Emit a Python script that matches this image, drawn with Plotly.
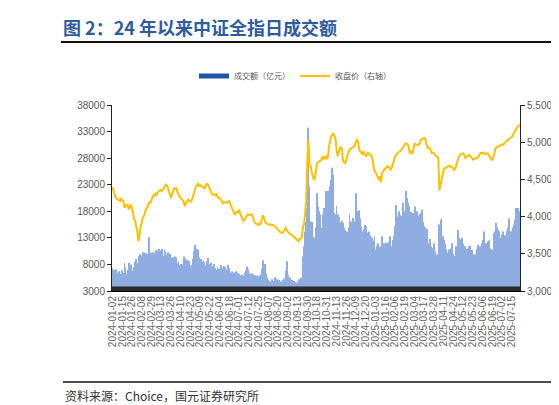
import pandas as pd
import plotly.graph_objects as go

# ---- trading calendar (China A-share), 2024-01-02 .. 2025-07-24 ----
holidays = [
    "2024-01-01", "2024-02-09", "2024-02-12", "2024-02-13", "2024-02-14", "2024-02-15", "2024-02-16",
    "2024-04-04", "2024-04-05", "2024-05-01", "2024-05-02", "2024-05-03", "2024-06-10",
    "2024-09-16", "2024-09-17", "2024-10-01", "2024-10-02", "2024-10-03", "2024-10-04", "2024-10-07",
    "2025-01-01", "2025-01-28", "2025-01-29", "2025-01-30", "2025-01-31", "2025-02-03", "2025-02-04",
    "2025-04-04", "2025-05-01", "2025-05-02", "2025-05-05", "2025-06-02",
]
days = pd.bdate_range("2024-01-02", "2025-07-24")
dates = [d.strftime("%Y-%m-%d") for d in days if d.strftime("%Y-%m-%d") not in holidays]

# ---- turnover (亿元) ----
turnover = [
    7300, 7000, 6600, 7100, 6500, 6300, 6700, 6200, 6000, 6900,
    6400, 8200, 7400, 6300, 7000, 8300, 7400, 8000, 6800, 6200,
    7500, 8500, 9000, 8200, 9600, 9900, 9700, 9400, 10300, 9900,
    10200, 9200, 10000, 9700, 13100, 10300, 10200, 10300, 9400, 10100,
    10700, 9800, 10500, 10900, 10600, 10200, 10900, 9600, 10800, 10500,
    9800, 10300, 9600, 10000, 9400, 8900, 9300, 8800, 9500, 9300,
    8200, 8600, 7900, 8100, 7700, 8000, 9500, 9100, 8600, 8900,
    8200, 8700, 7800, 7900, 9000, 10500, 11700, 11000, 10200, 10800,
    9300, 8700, 9000, 8500, 8800, 8400, 7800, 8600, 9200, 8100,
    7900, 8300, 7600, 7500, 8100, 7300, 7000, 7600, 7200, 6800,
    7900, 7300, 7100, 7700, 7400, 7000, 6900, 7900, 7300, 6500,
    6700, 6300, 6500, 6100, 6700, 6500, 6200, 6300, 5800, 5900,
    6100, 5800, 6500, 6900, 7600, 7100, 6400, 6100, 6200, 6300,
    5900, 6000, 5900, 5800, 6000, 5700, 5900, 6100, 7200, 8800,
    7000, 8100, 6300, 5500, 5100, 4900, 4800, 5200, 4900, 4700,
    5600, 5300, 5100, 4800, 5100, 4900, 4700, 5000, 5400, 5200,
    6800, 8600, 6000, 5300, 5500, 5000, 5100, 4800, 4900, 4700,
    4600, 4800, 5200, 4800, 5500, 5400, 9500, 11400, 14200, 16000,
    18600, 33700, 22700, 16100, 16000, 13300, 12600, 13000, 14900, 21400,
    18900, 18000, 17400, 14900, 17400, 18600, 18300, 21800, 20500, 21800,
    16400, 22700, 24000, 26200, 24900, 17700, 17400, 19000, 17400, 16900,
    15800, 15500, 16200, 15800, 14900, 14500, 13600, 14200, 15000, 17400,
    16100, 15500, 16800, 16100, 15700, 21400, 18000, 17700, 18200, 16700,
    15200, 14200, 14600, 15400, 15200, 14000, 13000, 14200, 13500, 12600,
    13100, 12500, 13300, 10800, 11500, 12000, 10800, 11300, 11400, 13300,
    11800, 12000, 11500, 12100, 12000, 12200, 13300, 11400, 11000, 12600,
    13500, 15200, 19200, 17000, 16400, 18000, 17300, 17100, 19600, 17300,
    18000, 21800, 20500, 19500, 18900, 17500, 17900, 16100, 17700, 18900,
    18900, 18000, 17200, 16700, 17500, 17700, 18300, 16000, 15200, 14900,
    14700, 14600, 12000, 12800, 11400, 11100, 10800, 12000, 10500, 9500,
    9800, 9900, 15500, 16400, 16700, 13300, 12600, 11900, 10800, 8900,
    10200, 10800, 10500, 11000, 12000, 10000, 9600, 11400, 10600, 14500,
    13000, 12300, 12700, 13000, 11900, 11400, 11400, 10900, 11000, 11400,
    11500, 10500, 10700, 9800, 9900, 9800, 9800, 10900, 11700, 11400,
    11400, 12000, 12600, 14200, 11800, 12000, 12000, 12300, 12500, 11000,
    10600, 10800, 13900, 14200, 15800, 14900, 14500, 14200, 13000, 12600,
    13600, 14200, 12700, 13500, 14300, 14900, 16700, 14200, 13900, 14300,
    15000, 15500, 16400, 18600, 18300, 18600, 18000,
]

# ---- CSI All Share close (right axis) ----
close = [
    4394, 4340, 4290, 4255, 4245, 4225, 4230, 4210, 4240, 4225,
    4210, 4120, 4140, 4150, 4165, 4095, 4120, 4160, 4110, 4030,
    3960, 3940, 3880, 3790, 3668, 3780, 3860, 3920, 3990, 4010,
    4060, 4100, 4120, 4150, 4200, 4180, 4230, 4260, 4290, 4280,
    4310, 4300, 4330, 4350, 4360, 4340, 4350, 4370, 4400, 4430,
    4420, 4400, 4340, 4280, 4250, 4300, 4340, 4380, 4370, 4380,
    4330, 4290, 4270, 4250, 4240, 4220, 4180, 4140, 4190, 4220,
    4230, 4210, 4200, 4210, 4260, 4320, 4360, 4400, 4420, 4440,
    4410, 4420, 4415, 4400, 4390, 4380, 4410, 4440, 4435, 4400,
    4370, 4320, 4300, 4295, 4300, 4290, 4300, 4270, 4250, 4255,
    4230, 4200, 4180, 4190, 4185, 4190, 4200, 4195, 4205, 4160,
    4115, 4090, 4060, 4025, 4050, 4070, 4065, 4080, 4040, 4004,
    3980, 3937, 3960, 3990, 4010, 4030, 4025, 4030, 4020, 4025,
    3980, 3925, 3914, 3905, 3891, 3900, 3890, 3910, 3960, 4017,
    3980, 3925, 3914, 3900, 3895, 3891, 3895, 3885, 3890, 3880,
    3870, 3865, 3845, 3820, 3800, 3790, 3785, 3780, 3800, 3830,
    3847, 3820, 3790, 3780, 3770, 3760, 3755, 3740, 3725, 3712,
    3690, 3680, 3668, 3700, 3705, 3730, 3860, 3900, 4050, 4220,
    4740, 5034, 4676, 4680, 4600, 4542, 4496, 4520, 4630, 4720,
    4730, 4740, 4743, 4760, 4810, 4770, 4800, 4810, 4780, 4800,
    4944, 5030, 5079, 5100, 5114, 5080, 5056, 4899, 4810, 4860,
    4922, 4930, 4900, 4743, 4730, 4720, 4765, 4800, 4860, 4899,
    4910, 4922, 4930, 4940, 4966, 5010, 5043, 4990, 4900, 4877,
    4850, 4832, 4877, 4840, 4810, 4830, 4855, 4840, 4832, 4830,
    4788, 4700, 4609, 4600, 4564, 4520, 4496, 4542, 4461, 4586,
    4610, 4630, 4650, 4653, 4676, 4670, 4650, 4630, 4660, 4698,
    4750, 4810, 4830, 4855, 4860, 4877, 4880, 4899, 4920, 4944,
    4960, 4989, 4980, 4966, 4900, 4855, 4870, 4855, 4900, 4980,
    4970, 4960, 4960, 4975, 4980, 5034, 5040, 5050, 5056, 5040,
    4980, 4922, 4930, 4920, 4890, 4855, 4860, 4855, 4830, 4810,
    4800, 4790, 4353, 4420, 4496, 4586, 4630, 4650, 4653, 4660,
    4680, 4685, 4670, 4675, 4660, 4640, 4630, 4660, 4698, 4760,
    4810, 4830, 4840, 4846, 4850, 4830, 4788, 4800, 4820, 4830,
    4820, 4810, 4790, 4765, 4770, 4780, 4790, 4795, 4800, 4830,
    4855, 4850, 4860, 4845, 4850, 4840, 4850, 4845, 4820, 4788,
    4770, 4765, 4800, 4855, 4922, 4930, 4944, 4950, 4960, 4966,
    4970, 4966, 4990, 5000, 5011, 5030, 5043, 5050, 5056, 5070,
    5101, 5120, 5146, 5180, 5204, 5220, 5235,
]

assert len(dates) == 377, len(dates)
assert len(turnover) == len(dates), len(turnover)
assert len(close) == len(dates), len(close)

label_step = 9
tick_labels = dates[::label_step]
left_ticks = [3000, 8000, 13000, 18000, 23000, 28000, 33000, 38000]
right_ticks = [3000, 3500, 4000, 4500, 5000, 5500]

# ---- geometry helpers (pixels -> paper) ----
W, H = 559, 405
L, R, T, B = 104, 47, 97, 122
PW, PH = W - L - R, H - T - B
def px(x):
    return (x - L) / PW
def py(y):
    return (H - B - y) / PH

GRAY = "#595959"
FONT = "Liberation Sans, Arial, sans-serif"
CJK = "Noto Sans CJK SC"
BAR_COLOR = "#8fade0"
BAR_LEGEND = "#1f56a8"
n = len(dates)

fig = go.Figure()
fig.add_trace(go.Bar(
    x=dates, y=turnover, name="成交额（亿元）", showlegend=False,
    marker=dict(color=BAR_COLOR, line=dict(width=0)),
    yaxis="y", xaxis="x",
))
# legend entry for the bars (wide solid swatch as in the reference legend)
fig.add_trace(go.Scatter(
    x=[None], y=[None], name="成交额（亿元）", showlegend=True, mode="lines",
    line=dict(color=BAR_LEGEND, width=5), yaxis="y", xaxis="x",
))
fig.add_trace(go.Scatter(
    x=dates, y=close, name="收盘价（右轴）", mode="lines",
    line=dict(color="#FFC000", width=2),
    yaxis="y2", xaxis="x",
))

fig.update_layout(
    width=W, height=H,
    margin=dict(l=L, r=R, t=T, b=B, autoexpand=False),
    paper_bgcolor="white", plot_bgcolor="white",
    bargap=0.2,
    showlegend=True,
    legend=dict(orientation="h", x=px(287), xanchor="center", y=py(68), yanchor="middle",
                font=dict(family=CJK, size=8, color=GRAY), itemwidth=30,
                bgcolor="rgba(0,0,0,0)"),
    title=dict(text="<b>图 2：24 年以来中证全指日成交额</b>", x=55 / W, xanchor="left",
               xref="container", y=1 - 21 / H, yref="container", yanchor="middle",
               font=dict(family=CJK, size=18, color="#2E5C9E")),
    xaxis=dict(type="category", categoryorder="array", categoryarray=dates,
               range=[-0.5, n - 0.5], tickmode="array", tickvals=tick_labels, ticktext=tick_labels,
               tickangle=-90, tickfont=dict(family=FONT, size=10, color="#666666"),
               showline=True, linecolor="#000", linewidth=1, ticks="",
               showgrid=False, zeroline=False),
    yaxis=dict(range=[3000, 38000], tickmode="array", tickvals=left_ticks,
               ticktext=[str(v) for v in left_ticks],
               tickfont=dict(family=FONT, size=10, color=GRAY),
               showline=True, linecolor="#222", linewidth=1, ticks="outside", ticklen=4,
               tickcolor="#222", showgrid=False, zeroline=False),
    yaxis2=dict(range=[3000, 5500], tickmode="array", tickvals=right_ticks,
                ticktext=[f"{v:,}" for v in right_ticks],
                overlaying="y", side="right", anchor="x",
                tickfont=dict(family=FONT, size=10, color=GRAY),
                showline=True, linecolor="#222", linewidth=1, ticks="outside", ticklen=4,
                tickcolor="#222", showgrid=False, zeroline=False),
    shapes=[
        # dense per-day tick comb along the bottom axis (decorative band)
        dict(type="rect", xref="paper", yref="paper", x0=0, x1=1, y0=py(283), y1=py(278.5),
             fillcolor="#2a2a2a", line=dict(width=0), layer="above"),
        dict(type="line", xref="paper", yref="paper", x0=px(53), x1=px(559), y0=py(34), y1=py(34),
             line=dict(color="#111", width=2)),
        dict(type="line", xref="paper", yref="paper", x0=px(55), x1=px(559), y0=py(374), y1=py(374),
             line=dict(color="#111", width=1.5)),
    ],
    annotations=[
        dict(text="资料来源：Choice，国元证券研究所", xref="paper", yref="paper",
             x=px(55), y=py(387), xanchor="left", yanchor="middle", showarrow=False,
             font=dict(family=CJK, size=12, color="#333")),
    ],
)

fig.write_html("out.html")
